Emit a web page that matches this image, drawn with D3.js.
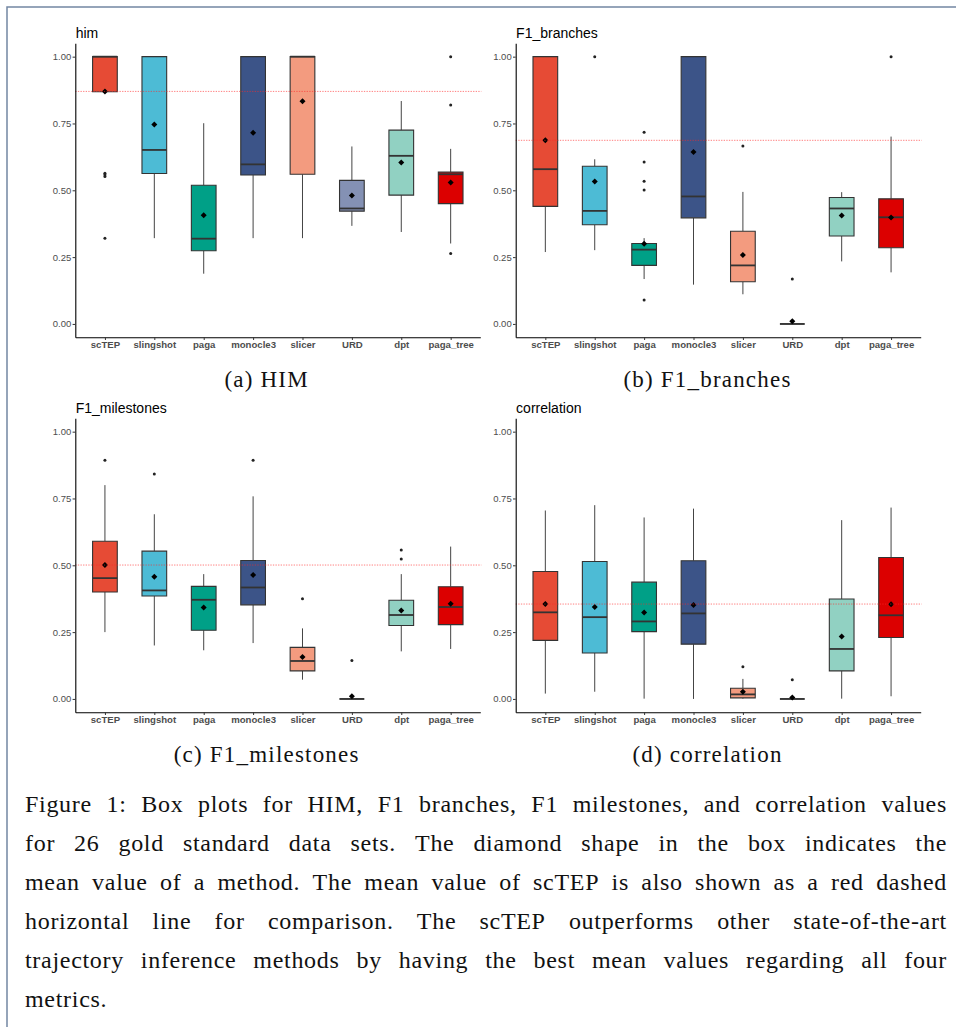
<!DOCTYPE html>
<html>
<head>
<meta charset="utf-8">
<script src="https://cdn.jsdelivr.net/npm/d3@7"></script>
<style>
  body { margin: 0; background: #fff; }
  svg { display: block; }
</style>
</head>
<body>
<script>
// Methods and their colours (ggsci npg palette)
var methods = ["scTEP", "slingshot", "paga", "monocle3", "slicer", "URD", "dpt", "paga_tree"];
var methodColors = ["#E64B35", "#4DBBD5", "#00A087", "#3C5488", "#F39B7F", "#8491B4", "#91D1C2", "#DC0000"];
var yTicks = [0, 0.25, 0.5, 0.75, 1];

// box stats per method: [lower whisker, Q1, median, Q3, upper whisker]
var himBoxes = [
  [0.869, 0.869, 1.000, 1.000, 1.000],
  [0.321, 0.563, 0.651, 1.000, 1.000],
  [0.188, 0.274, 0.319, 0.519, 0.751],
  [0.321, 0.557, 0.597, 1.000, 1.000],
  [0.321, 0.560, 1.000, 1.000, 1.000],
  [0.367, 0.422, 0.432, 0.537, 0.664],
  [0.344, 0.482, 0.629, 0.725, 0.834],
  [0.301, 0.450, 0.560, 0.568, 0.655]
];
var himMeans = [0.870, 0.746, 0.407, 0.715, 0.833, 0.481, 0.604, 0.529];
var himOutliers = [[0.564, 0.558, 0.552, 0.321], [], [], [], [], [], [], [1.0, 0.819, 0.264]];

var branchBoxes = [
  [0.269, 0.440, 0.579, 1.000, 1.000],
  [0.276, 0.371, 0.423, 0.590, 0.616],
  [0.168, 0.219, 0.278, 0.301, 0.321],
  [0.147, 0.397, 0.477, 1.000, 1.000],
  [0.111, 0.158, 0.219, 0.347, 0.494],
  [0, 0, 0, 0, 0],
  [0.234, 0.329, 0.432, 0.473, 0.493],
  [0.193, 0.285, 0.399, 0.468, 0.701]
];
var branchMeans = [0.687, 0.533, 0.300, 0.643, 0.258, 0.010, 0.406, 0.398];
var branchOutliers = [[], [1.0], [0.717, 0.606, 0.534, 0.501, 0.090], [], [0.666], [0.168], [], [1.0]];

var milestoneBoxes = [
  [0.250, 0.400, 0.452, 0.590, 0.800],
  [0.200, 0.385, 0.406, 0.553, 0.691],
  [0.182, 0.257, 0.371, 0.421, 0.467],
  [0.209, 0.352, 0.417, 0.518, 0.758],
  [0.072, 0.105, 0.142, 0.193, 0.264],
  [0, 0, 0, 0, 0],
  [0.178, 0.275, 0.314, 0.369, 0.467],
  [0.187, 0.278, 0.344, 0.420, 0.570]
];
var milestoneMeans = [0.501, 0.457, 0.342, 0.464, 0.157, 0.010, 0.331, 0.356];
var milestoneOutliers = [[0.893], [0.842], [], [0.893], [0.375], [0.144], [0.557, 0.524], []];

var corrBoxes = [
  [0.020, 0.219, 0.324, 0.477, 0.705],
  [0.027, 0.172, 0.306, 0.514, 0.725],
  [0.001, 0.252, 0.290, 0.437, 0.679],
  [0.000, 0.205, 0.320, 0.517, 0.712],
  [0.001, 0.004, 0.017, 0.040, 0.075],
  [0, 0, 0, 0, 0],
  [0.001, 0.105, 0.187, 0.374, 0.669],
  [0.010, 0.230, 0.313, 0.529, 0.716]
];
var corrMeans = [0.355, 0.344, 0.323, 0.351, 0.027, 0.005, 0.234, 0.354];
var corrOutliers = [[], [], [], [], [0.120], [0.072], [], []];

var captionLines = [
  "Figure 1: Box plots for HIM, F1 branches, F1 milestones, and correlation values",
  "for 26 gold standard data sets. The diamond shape in the box indicates the",
  "mean value of a method. The mean value of scTEP is also shown as a red dashed",
  "horizontal line for comparison. The scTEP outperforms other state-of-the-art",
  "trajectory inference methods by having the best mean values regarding all four",
  "metrics."
];

var svgWidth = 956;
var svgHeight = 1027;
var plotW = 405;
var plotH = 294;

var svg = d3.select("body")
  .append("svg")
  .attr("width", svgWidth)
  .attr("height", svgHeight);

// page frame (top and left edge only)
svg.append("path")
  .attr("d", "M7,1027V7H956")
  .attr("fill", "none")
  .attr("stroke", "#7387a3")
  .attr("stroke-width", 1.5);

var panels = [
  { title: "him", boxes: himBoxes, means: himMeans, outliers: himOutliers, x: 75.3, y: 43.3, sub: "(a) HIM", subX: 266.7, subY: 387 },
  { title: "F1_branches", boxes: branchBoxes, means: branchMeans, outliers: branchOutliers, x: 515.7, y: 43.3, sub: "(b) F1_branches", subX: 707.5, subY: 387 },
  { title: "F1_milestones", boxes: milestoneBoxes, means: milestoneMeans, outliers: milestoneOutliers, x: 75.3, y: 418.3, sub: "(c) F1_milestones", subX: 266.7, subY: 762 },
  { title: "correlation", boxes: corrBoxes, means: corrMeans, outliers: corrOutliers, x: 515.7, y: 418.3, sub: "(d) correlation", subX: 707.5, subY: 762 }
];

panels.forEach(function (p) {
  var g = svg.append("g").attr("transform", `translate(${p.x}, ${p.y})`);

  var xScale = d3.scalePoint().domain(methods).range([0, plotW]).padding(0.6);
  var yScale = d3.scaleLinear().domain([-0.05, 1.05]).range([plotH, 0]);
  var bw = xScale.step() * 0.5;

  var rows = methods.map(function (m, i) {
    return { name: m, color: methodColors[i], s: p.boxes[i], mean: p.means[i], out: p.outliers[i] };
  });

  var items = g.selectAll("g.box").data(rows).enter()
    .append("g").attr("class", "box")
    .attr("transform", d => `translate(${xScale(d.name)}, 0)`);

  // whiskers
  items.append("line")
    .attr("x1", 0).attr("x2", 0)
    .attr("y1", d => yScale(d.s[0])).attr("y2", d => yScale(d.s[1]))
    .attr("stroke", "#444").attr("stroke-width", 1);
  items.append("line")
    .attr("x1", 0).attr("x2", 0)
    .attr("y1", d => yScale(d.s[3])).attr("y2", d => yScale(d.s[4]))
    .attr("stroke", "#444").attr("stroke-width", 1);

  // box
  items.append("path")
    .attr("d", d => `M${-bw / 2},${yScale(d.s[3])}H${bw / 2}V${yScale(d.s[1])}H${-bw / 2}Z`)
    .attr("fill", d => d.color)
    .attr("stroke", "#333")
    .attr("stroke-width", 1.1);

  // median
  items.append("line")
    .attr("x1", -bw / 2).attr("x2", bw / 2)
    .attr("y1", d => yScale(d.s[2])).attr("y2", d => yScale(d.s[2]))
    .attr("stroke", "#333").attr("stroke-width", 1.8);

  // outliers
  items.selectAll("circle")
    .data(d => d.out)
    .enter()
    .append("circle")
    .attr("cx", 0)
    .attr("cy", v => yScale(v))
    .attr("r", 1.5)
    .attr("fill", "#222");

  // mean diamond
  items.append("path")
    .attr("d", d3.symbol().type(d3.symbolSquare).size(18))
    .attr("transform", d => `translate(0, ${yScale(d.mean)}) rotate(45)`)
    .attr("fill", "#000");

  // scTEP mean reference line
  g.append("line")
    .attr("x1", 0).attr("x2", plotW + 1)
    .attr("y1", yScale(p.means[0])).attr("y2", yScale(p.means[0]))
    .attr("stroke", "#ff2a2a")
    .attr("stroke-width", 0.8)
    .attr("stroke-dasharray", "1.3,1.3")
    .attr("opacity", 0.75);

  // axes
  var bottomAxis = d3.axisBottom(xScale).tickSizeInner(2.7).tickSizeOuter(0).tickPadding(0.8);
  var leftAxis = d3.axisLeft(yScale).tickValues(yTicks).tickFormat(d3.format(".2f"))
    .tickSizeInner(2.7).tickSizeOuter(0).tickPadding(1.3);

  var xg = g.append("g").attr("transform", `translate(0, ${plotH})`).call(bottomAxis);
  xg.selectAll("text")
    .attr("font-family", "'Liberation Sans', Arial, sans-serif")
    .attr("font-size", "9.6px")
    .attr("font-weight", "bold")
    .attr("fill", "#4d4d4d");

  var yg = g.append("g").call(leftAxis);
  yg.selectAll("text")
    .attr("font-family", "'Liberation Sans', Arial, sans-serif")
    .attr("font-size", "9.5px")
    .attr("fill", "#4d4d4d");

  [xg, yg].forEach(function (a) {
    a.select(".domain").attr("stroke", "#000").attr("stroke-width", 1.1);
    a.selectAll(".tick line").attr("stroke", "#333");
  });

  // panel title
  g.append("text")
    .attr("x", 0.4)
    .attr("y", -5)
    .attr("font-family", "'Liberation Sans', Arial, sans-serif")
    .attr("font-size", "14px")
    .attr("fill", "#000")
    .text(p.title);

  // sub caption
  svg.append("text")
    .attr("x", p.subX)
    .attr("y", p.subY)
    .attr("text-anchor", "middle")
    .attr("font-family", "'Liberation Serif', 'Times New Roman', serif")
    .attr("font-size", "23px")
    .attr("letter-spacing", "1.2px")
    .attr("fill", "#111")
    .text(p.sub);
});

// figure caption, justified between the two margins
var capLeft = 25;
var capRight = 947;
var capTop = 811.5;
var capStep = 39;

captionLines.forEach(function (line, li) {
  var words = line.split(" ");
  var y = capTop + li * capStep;
  var texts = svg.selectAll(null)
    .data(words)
    .enter()
    .append("text")
    .attr("y", y)
    .attr("font-family", "'Liberation Serif', 'Times New Roman', serif")
    .attr("font-size", "24px")
    .attr("letter-spacing", "0.7px")
    .attr("fill", "#111")
    .text(w => w);

  var widths = [];
  texts.each(function () { widths.push(this.getComputedTextLength()); });
  var total = d3.sum(widths);
  var last = li === captionLines.length - 1;
  var gap = last ? 7 : (capRight - capLeft - total) / (words.length - 1);

  var cx = capLeft;
  texts.attr("x", function (d, i) {
    var pos = cx;
    cx += widths[i] + gap;
    return pos;
  });
});
</script>
</body>
</html>
